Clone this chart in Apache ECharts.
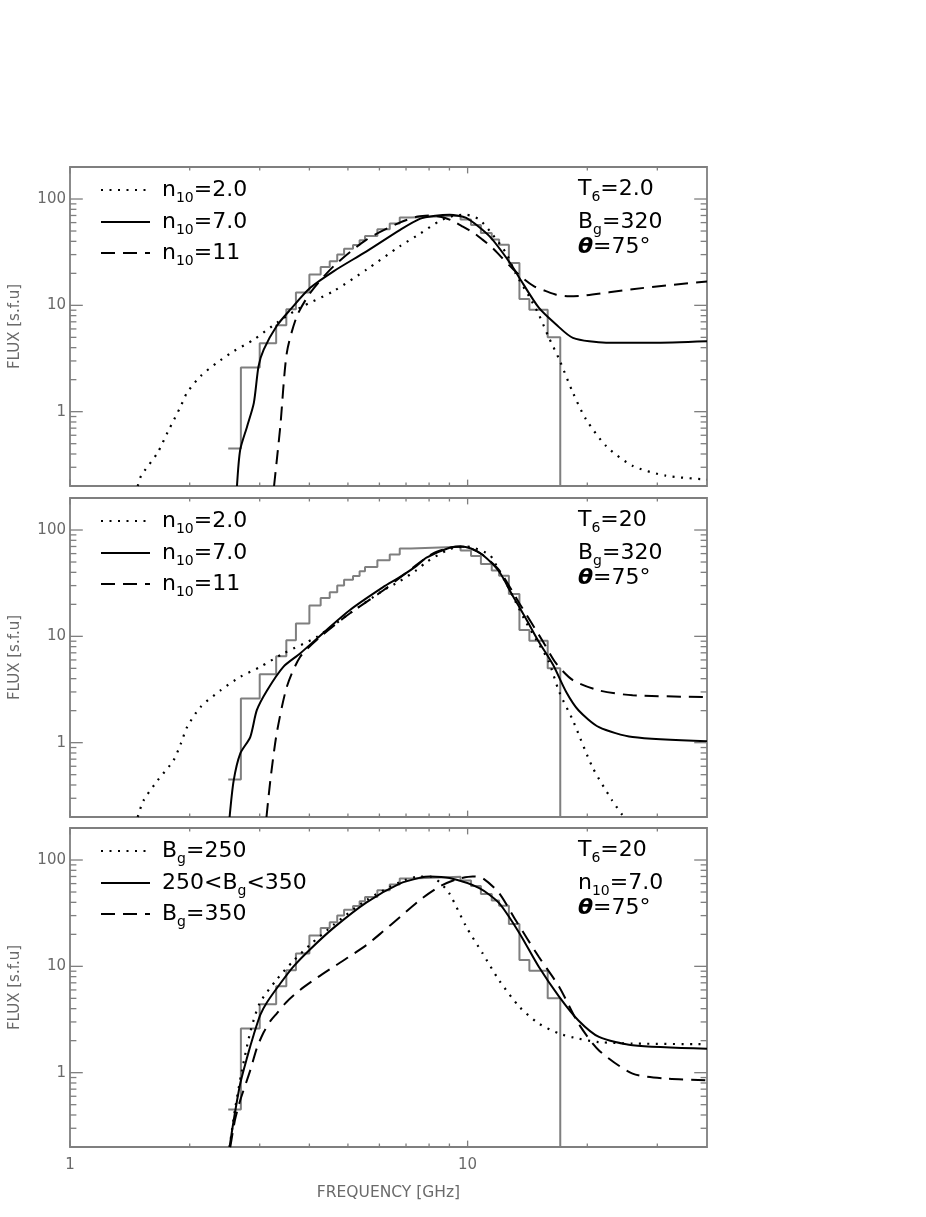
<!DOCTYPE html>
<html>
<head>
<meta charset="UTF-8">
<title>Flux spectra</title>
<script src="https://cdn.jsdelivr.net/npm/echarts@6.0.0/dist/echarts.min.js"></script>
<style>
    html, body { margin: 0; padding: 0; background: #fff; }
    #chart { width: 926px; height: 1217px; }
</style>
</head>
<body>
<div id="chart"></div>
<script>
// observed spectrum, same in all three panels: bin left edges [GHz] and flux [s.f.u]
var histEdges = [2.50, 2.69, 3.00, 3.30, 3.50, 3.70, 4.00, 4.27, 4.50, 4.70, 4.89, 5.15, 5.35, 5.52, 5.93, 6.37, 6.75, 7.20, 9.60, 10.2, 10.8, 11.5, 12.0, 12.7, 13.5, 14.3, 15.9, 17.1];
var histFlux  = [0.45, 2.6, 4.4, 6.5, 9.2, 13.2, 19.5, 23, 26, 30, 34, 37, 41, 45, 52, 59, 67, 69.5, 64, 57, 48, 41.5, 37.2, 25, 11.5, 9.1, 5.0];

// panel 1 : T6=2.0, Bg=320
var p1Dotted = [[1.48,0.2],[1.51,0.25],[1.66,0.41],[1.76,0.64],[1.90,1.13],[1.97,1.51],[2.13,2.16],[2.34,2.88],[2.58,3.7],[2.90,4.77],[3.31,6.85],[3.79,9.5],[4.60,13.6],[5.57,21.7],[6.75,35.9],[7.58,47],[8.5,62],[9.3,70],[9.92,71],[10.7,64],[11.57,46],[12.5,31],[13.2,20],[14.3,12],[15.1,8.2],[16.0,5],[17.0,3.1],[18.4,1.51],[19.84,0.85],[22.3,0.475],[25.97,0.31],[31.5,0.25],[40,0.23]];
var p1Solid  = [[2.63,0.2],[2.68,0.44],[2.79,0.73],[2.90,1.21],[2.98,2.68],[3.07,3.84],[3.31,6.4],[3.58,9.1],[4.02,14.6],[4.60,20.9],[5.57,32.2],[6.75,51],[7.58,65],[8.3,69.5],[9.01,71],[9.92,66.3],[11.36,44.5],[12.87,24.2],[13.5,18.1],[15.1,9.5],[16.7,6.6],[18.4,4.95],[22.3,4.45],[29.1,4.45],[40,4.6]];
var p1Dashed = [[3.26,0.2],[3.38,0.73],[3.51,3.58],[3.72,7.9],[4.02,13.1],[4.60,23.3],[5.57,41.5],[6.75,60],[7.5,68.5],[8.1,70],[8.7,67],[9.19,62],[9.73,55],[10.4,47.5],[10.9,41.5],[11.57,34.5],[12.2,28],[13.0,22],[13.9,17.5],[14.7,15.1],[15.75,13.6],[16.7,12.6],[18.0,12.2],[19.84,12.4],[25.97,14.2],[40,16.8]];

// panel 2 : T6=20, Bg=320
var p2Dotted = [[1.48,0.2],[1.53,0.285],[1.66,0.44],[1.82,0.68],[1.90,0.98],[1.97,1.40],[2.13,2.17],[2.39,3.1],[2.68,4.16],[3.01,5.17],[3.44,6.9],[4.18,9.9],[5.06,16.5],[6.13,27],[6.75,33],[7.44,42],[7.88,50],[9.01,66],[9.92,70],[10.3,68.5],[11.36,58.5],[11.9,44],[12.5,31.6],[13.2,21.2],[14.0,13.7],[15.1,8.5],[16.0,5.8],[17.0,3.0],[18.4,1.62],[20.6,0.59],[23.1,0.286],[24.7,0.2]];
var p2Solid  = [[2.52,0.2],[2.58,0.44],[2.68,0.79],[2.84,1.13],[2.95,2.02],[3.13,3.1],[3.44,5.17],[3.79,6.9],[4.42,11.5],[5.06,17.7],[6.13,29],[6.75,36],[7.44,46],[7.88,55],[9.01,68],[9.6,70],[10.2,67],[10.9,58.5],[12.0,40.7],[12.95,24.5],[14.0,14.8],[15.1,8.9],[16.4,5.4],[17.7,3.0],[19.0,2.02],[21.4,1.40],[26,1.13],[40,1.03]];
var p2Dashed = [[3.12,0.2],[3.19,0.44],[3.31,1.22],[3.51,3.35],[3.79,6.4],[4.26,9.9],[5.06,16.5],[6.13,27],[7.44,47],[8.17,60],[9.01,68],[9.6,70],[10.2,67],[10.9,58.5],[12.0,42],[13.5,20.4],[15.4,9.2],[16.7,5.56],[18.4,3.87],[21.4,3.1],[26,2.79],[40,2.69]];

// panel 3 : T6=20, n10=7.0
var p3Dotted = [[2.52,0.2],[2.6,0.45],[2.7,1.0],[2.84,2.4],[3.0,4.5],[3.3,7.4],[3.65,11.3],[4.02,16],[4.6,24.5],[5.57,42],[6.75,62],[7.58,70],[8.03,70],[8.5,62],[9.01,48],[9.92,23.6],[10.9,13.3],[12.0,7.4],[13.5,4.16],[15.1,2.9],[17.0,2.33],[19.0,2.09],[21.4,1.94],[26,1.88],[40,1.85]];
var p3Solid  = [[2.52,0.2],[2.58,0.355],[2.68,0.79],[2.79,1.4],[2.90,2.3],[3.01,3.5],[3.13,4.6],[3.38,6.9],[3.65,10],[4.02,14.5],[4.6,23],[5.57,40],[6.75,60],[7.58,68],[8.03,70],[9.01,67.6],[10.7,54.4],[12.0,39.3],[13.5,20.5],[15.1,9.9],[17.0,5.17],[19.0,3.1],[21.4,2.17],[26,1.81],[40,1.68]];
var p3Dashed = [[2.53,0.2],[2.6,0.36],[2.68,0.55],[2.84,1.05],[2.95,1.7],[3.07,2.4],[3.2,3.1],[3.31,3.6],[3.5,4.6],[3.79,6.0],[4.2,7.9],[4.60,9.9],[5.0,12.1],[5.57,15.9],[6.1,21],[6.75,29],[7.58,42],[8.51,56.4],[9.4,66],[10.3,70],[10.9,67.6],[12.0,48.9],[13.2,27.3],[15.1,12.3],[17.0,6.4],[19.0,2.9],[21.4,1.62],[26,0.98],[31.5,0.88],[40,0.85]];

// tick positions
var yMajorTicks = [1, 10, 100];
var yMinorTicks = [0.3, 0.4, 0.5, 0.6, 0.7, 0.8, 0.9, 2, 3, 4, 5, 6, 7, 8, 9, 20, 30, 40, 50, 60, 70, 80, 90];
var xMajorTicks = [1, 10];
var xMinorTicks = [2, 3, 4, 5, 6, 7, 8, 9, 20, 30];

// legend and parameter texts (rich text: a = normal, s = subscript, t = theta)
var legendTexts = [
    ['{a|n}{s|10}{a|=2.0}', '{a|n}{s|10}{a|=7.0}', '{a|n}{s|10}{a|=11}'],
    ['{a|n}{s|10}{a|=2.0}', '{a|n}{s|10}{a|=7.0}', '{a|n}{s|10}{a|=11}'],
    ['{a|B}{s|g}{a|=250}', '{a|250<B}{s|g}{a|<350}', '{a|B}{s|g}{a|=350}']
];
var paramTexts = [
    ['{a|T}{s|6}{a|=2.0}', '{a|B}{s|g}{a|=320}', '{t|θ}{a|=75°}'],
    ['{a|T}{s|6}{a|=20}', '{a|B}{s|g}{a|=320}', '{t|θ}{a|=75°}'],
    ['{a|T}{s|6}{a|=20}', '{a|n}{s|10}{a|=7.0}', '{t|θ}{a|=75°}']
];

var models = [
    [p1Dotted, p1Solid, p1Dashed],
    [p2Dotted, p2Solid, p2Dashed],
    [p3Dotted, p3Solid, p3Dashed]
];

var fMin = 1, fMax = 40, sMin = 0.2, sMax = 200;
var gridTops = [167, 498, 828];
var gridH = 319;
var gray = '#7f7f7f';
var labelGray = '#6a6a6a';
var font = "'DejaVu Sans', sans-serif";

var chart = echarts.init(document.getElementById('chart'));

function dashOf(m) {
    if (m === 0) return [2, 6.5];
    if (m === 2) return [14, 8];
    return 'solid';
}

function decadeLabel(v) {
    var l = Math.log10(v);
    return Math.abs(l - Math.round(l)) < 1e-6 ? String(Math.round(v)) : '';
}

function tickLine(x1, y1, x2, y2) {
    return { type: 'line', shape: { x1: x1, y1: y1, x2: x2, y2: y2 }, style: { stroke: gray, lineWidth: 1.3 } };
}

function renderTicks(params, api) {
    var v = api.value(0);
    var kind = api.value(1);
    var out = [];
    if (kind <= 2) {
        var len = kind === 1 ? 12.8 : 6.4;
        var a = api.coord([fMin, v]);
        var b = api.coord([fMax, v]);
        out.push(tickLine(a[0], a[1], a[0] + len, a[1]));
        out.push(tickLine(b[0] - len, b[1], b[0], b[1]));
    } else {
        var len2 = kind === 3 ? 6.4 : 3.5;
        var c = api.coord([v, sMin]);
        var d = api.coord([v, sMax]);
        out.push(tickLine(c[0], c[1], c[0], c[1] - len2));
        out.push(tickLine(d[0], d[1], d[0], d[1] + len2));
    }
    return { type: 'group', children: out };
}

function makeTickData() {
    var t = [];
    yMajorTicks.forEach(function (v) { t.push([v, 1]); });
    yMinorTicks.forEach(function (v) { t.push([v, 2]); });
    xMajorTicks.forEach(function (v) { t.push([v, 3]); });
    xMinorTicks.forEach(function (v) { t.push([v, 4]); });
    return t;
}

function makeHistData() {
    var h = [];
    for (var i = 0; i < histFlux.length; i++) {
        h.push([histEdges[i], histFlux[i]]);
    }
    var last = histEdges[histEdges.length - 1];
    h.push([last, histFlux[histFlux.length - 1]]);
    h.push([last, 0.05]);
    return h;
}

function makeRich() {
    return {
        a: { fontSize: 22, lineHeight: 30, fontFamily: font, color: '#000' },
        s: { fontSize: 14, lineHeight: 14, verticalAlign: 'bottom', fontFamily: font, color: '#000' },
        t: { fontSize: 22, lineHeight: 30, fontFamily: font, fontWeight: 'bold', fontStyle: 'italic', color: '#000' }
    };
}

var grids = [], xAxes = [], yAxes = [], series = [], graphics = [];
var rowsL = [23, 55, 86];
var rowsR = [22.5, 55, 80];

for (var g = 0; g < 3; g++) {
    var panelTop = gridTops[g];
    grids.push({ left: 69, top: panelTop, width: 638, height: gridH, show: true, borderColor: gray, borderWidth: 1.8 });
    xAxes.push({
        type: 'log', logBase: 10, gridIndex: g, min: fMin, max: fMax,
        axisLine: { show: false }, axisTick: { show: false }, splitLine: { show: false },
        axisLabel: { show: g === 2, color: labelGray, fontSize: 15, fontFamily: font, margin: 11, formatter: decadeLabel },
        name: g === 2 ? 'FREQUENCY [GHz]' : '', nameLocation: 'middle', nameGap: 38,
        nameTextStyle: { color: labelGray, fontSize: 15.5, fontFamily: font }
    });
    yAxes.push({
        type: 'log', logBase: 10, gridIndex: g, min: sMin, max: sMax,
        axisLine: { show: false }, axisTick: { show: false }, splitLine: { show: false },
        axisLabel: { color: labelGray, fontSize: 15, fontFamily: font, margin: 4, formatter: decadeLabel },
        name: 'FLUX [s.f.u]', nameLocation: 'middle', nameGap: 47,
        nameTextStyle: { color: labelGray, fontSize: 15, fontFamily: font }
    });

    series.push({
        type: 'custom', xAxisIndex: g, yAxisIndex: g, data: makeTickData(),
        renderItem: renderTicks, silent: true, z: 5
    });
    series.push({
        type: 'line', xAxisIndex: g, yAxisIndex: g, data: makeHistData(), step: 'end',
        showSymbol: false, symbol: 'none', silent: true, z: 2,
        lineStyle: { color: gray, width: 2 }
    });
    for (var m = 0; m < 3; m++) {
        series.push({
            type: 'line', xAxisIndex: g, yAxisIndex: g, data: models[g][m].slice(),
            smooth: 0.25, showSymbol: false, symbol: 'none', silent: true, z: 3,
            lineStyle: { color: '#000', width: m === 0 ? 2.2 : 2, type: dashOf(m) }
        });
    }

    for (var r = 0; r < 3; r++) {
        var sample = { stroke: '#000', lineWidth: 2 };
        if (r !== 1) sample.lineDash = dashOf(r);
        graphics.push({
            type: 'line', shape: { x1: 101, y1: panelTop + rowsL[r], x2: 150, y2: panelTop + rowsL[r] },
            style: sample
        });
        graphics.push({
            type: 'text', x: 162, y: panelTop + rowsL[r],
            style: { text: legendTexts[g][r], rich: makeRich(), textVerticalAlign: 'middle', fill: '#000' }
        });
        graphics.push({
            type: 'text', x: 578, y: panelTop + rowsR[r],
            style: { text: paramTexts[g][r], rich: makeRich(), textVerticalAlign: 'middle', fill: '#000' }
        });
    }
}

chart.setOption({
    backgroundColor: '#fff',
    animation: false,
    grid: grids,
    xAxis: xAxes,
    yAxis: yAxes,
    series: series,
    graphic: graphics
});
</script>
</body>
</html>
